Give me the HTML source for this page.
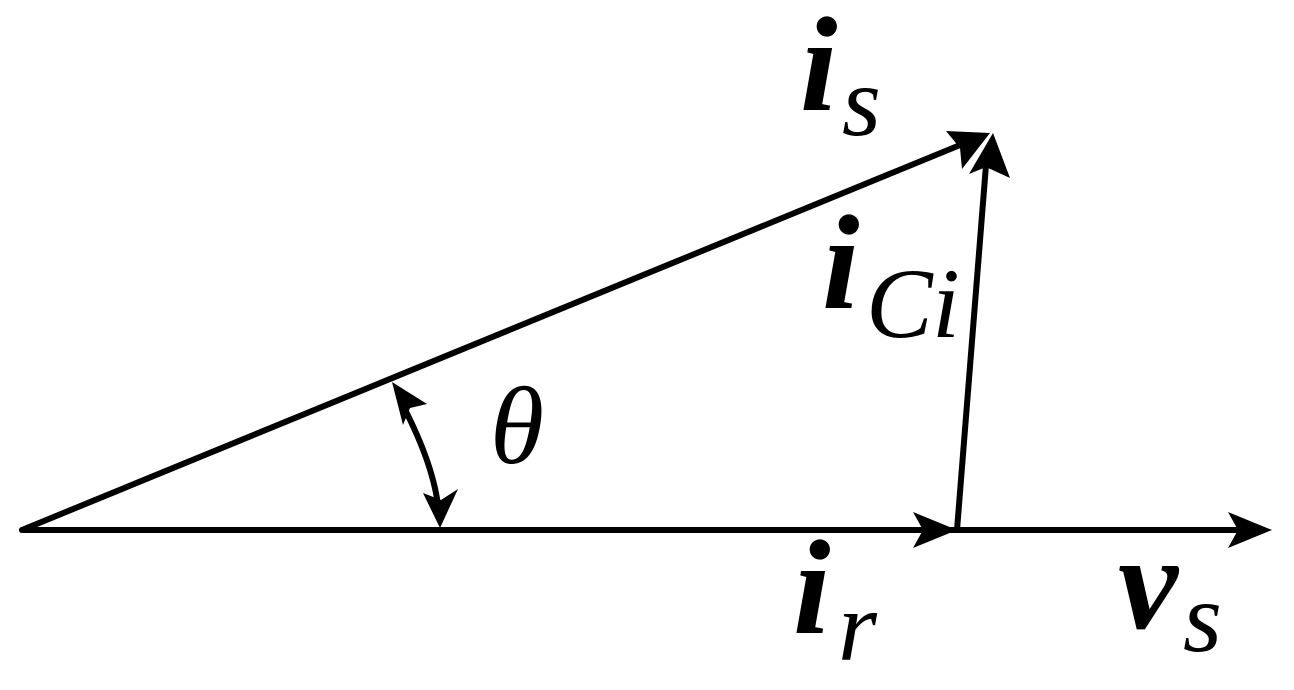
<!DOCTYPE html>
<html><head><style>html,body{margin:0;padding:0;background:#fff}
#w{position:relative;width:1294px;height:690px;overflow:hidden}
svg{display:block;position:absolute;left:0;top:0}
.t{position:absolute;font-family:"Liberation Serif",serif;font-style:italic;color:#000;line-height:1;white-space:nowrap}
.b{font-weight:bold}</style></head>
<body><div id="w">
<svg width="1294" height="690" viewBox="0 0 1294 690" xmlns="http://www.w3.org/2000/svg">
<g stroke="#000" stroke-width="6" fill="none" stroke-linecap="round">
<line x1="22" y1="530" x2="1240" y2="530"/>
<line x1="22" y1="530" x2="965" y2="143"/>
<line x1="957" y1="530" x2="986" y2="165"/>
<path d="M400 400 Q432 460 438 505"/>
</g>
<g fill="#000">
<polygon points="1272,530 1228,512 1238,530 1228,548"/>
<polygon points="957,530 913,512 923,530 913,548"/>
<polygon points="990,133 946,131 960,148 962,169"/>
<polygon points="993,133 969,174 986,167 1010,178"/>
<polygon points="392,382 403,425 410,408 427,404"/>
<polygon points="440,528 458,489 441,500 423,493"/>
</g>
</svg>
<span class="t b" style="left:800px;top:-2px;font-size:135px">i</span>
<span class="t" style="left:842px;top:52px;font-size:100px">s</span>
<span class="t b" style="left:822px;top:196px;font-size:135px">i</span>
<span class="t" style="left:866px;top:254px;font-size:100px">C</span>
<span class="t" style="left:932px;top:254px;font-size:100px">i</span>
<span class="t b" style="left:793px;top:521px;font-size:135px">i</span>
<span class="t" style="left:838px;top:577px;font-size:100px">r</span>
<span class="t b" style="left:1118px;top:516px;font-size:135px">v</span>
<span class="t" style="left:1183px;top:568px;font-size:100px">s</span>
<span class="t" style="left:490px;top:371px;font-size:110px">θ</span>
</div></body></html>
